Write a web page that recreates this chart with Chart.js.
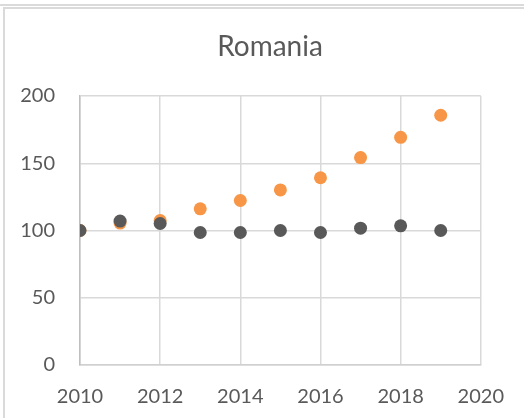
<!DOCTYPE html>
<html>
<head>
<meta charset="utf-8">
<script src="https://cdn.jsdelivr.net/npm/chart.js@4"></script>
<style>
  html, body { margin: 0; padding: 0; background: #fff; }
  #wrap { position: relative; width: 524px; height: 418px; overflow: hidden; }
  #topline { position: absolute; left: 0; top: 4px; width: 524px; height: 0; border-top: 2px solid #dadada; }
  #frame { position: absolute; left: 3px; top: 7px; width: 600px; height: 500px; border: 2px solid #dadada; box-sizing: border-box; }
  #title { position: absolute; left: 170px; width: 200px; top: 28px; text-align: center;
           font: 28px Lato, "Noto Sans", sans-serif; color: #595959; line-height: 34px; }
  canvas { position: absolute; left: 0; top: 0; }
</style>
</head>
<body>
<div id="wrap">
  <div id="topline"></div>
  <div id="frame"></div>
  <canvas id="chart" width="524" height="418"></canvas>
  <div id="title">Romania</div>
</div>
<script>
const years = [2010, 2011, 2012, 2013, 2014, 2015, 2016, 2017, 2018, 2019]
const orangeValues = [100, 105.5, 107.4, 116.1, 122.3, 130.2, 139.2, 154.2, 169.3, 185.7]
const greyValues = [100, 107, 105.2, 98.5, 98.5, 100, 98.5, 101.7, 103.5, 100]
const xTicks = [2010, 2012, 2014, 2016, 2018, 2020]
const yTicks = [0, 50, 100, 150, 200]

const textColor = '#595959'
const fontFamily = 'Lato, "Noto Sans", sans-serif'

const toPoints = (vals) => years.map((yr, i) => ({ x: yr, y: vals[i] }))

new Chart(document.getElementById('chart'), {
    type: 'scatter',
    data: {
        datasets: [
            {
                label: 'Series 2',
                data: toPoints(greyValues),
                backgroundColor: '#595959',
                borderColor: '#595959',
                pointRadius: 6.5,
                borderWidth: 0
            },
            {
                label: 'Series 1',
                data: toPoints(orangeValues),
                backgroundColor: '#f79646',
                borderColor: '#f79646',
                pointRadius: 6.5,
                borderWidth: 0
            }
        ]
    },
    options: {
        responsive: false,
        animation: false,
        // plot area: x 80..484, y 96..365
        layout: { padding: { left: 10, right: 40, top: 96, bottom: 0 } },
        plugins: {
            legend: { display: false },
            tooltip: { enabled: false },
            title: { display: false }
        },
        scales: {
            x: {
                type: 'linear',
                min: 2010,
                max: 2020,
                afterBuildTicks: (axis) => { axis.ticks = xTicks.map(v => ({ value: v })) },
                afterFit: (axis) => { axis.height = 53 },
                grid: { color: '#d9d9d9', lineWidth: 1.5, drawTicks: false },
                border: { color: '#d0d0d0', width: 1.5 },
                ticks: {
                    color: textColor,
                    font: { family: fontFamily, size: 20 },
                    padding: 20,
                    maxRotation: 0,
                    callback: (v) => String(v)
                }
            },
            y: {
                min: 0,
                max: 200,
                afterBuildTicks: (axis) => { axis.ticks = yTicks.map(v => ({ value: v })) },
                afterFit: (axis) => { axis.width = 70 },
                grid: { color: '#d9d9d9', lineWidth: 1.5, drawTicks: false },
                border: { color: '#bfbfbf', width: 1.5 },
                ticks: {
                    color: textColor,
                    font: { family: fontFamily, size: 20 },
                    padding: 25
                }
            }
        }
    }
})
</script>
</body>
</html>
